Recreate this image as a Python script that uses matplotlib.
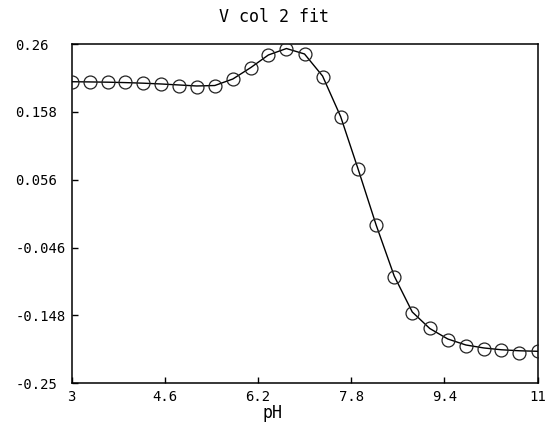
import matplotlib
matplotlib.use("Agg")
import matplotlib.pyplot as plt

# pH grid of the measurements
ph = [3.0, 3.31, 3.62, 3.92, 4.23, 4.54, 4.85, 5.15, 5.46, 5.77, 6.08, 6.38, 6.69,
      7.0, 7.31, 7.62, 7.92, 8.23, 8.54, 8.85, 9.15, 9.46, 9.77, 10.08, 10.38, 10.69, 11.0]

# observed V (circles)
v_obs = [0.2033, 0.2033, 0.2033, 0.2024, 0.2009, 0.1999, 0.1973, 0.1954, 0.1964,
         0.2077, 0.2244, 0.2439, 0.2528, 0.2457, 0.2109, 0.1507, 0.0721, -0.0121,
         -0.0898, -0.1436, -0.1673, -0.1849, -0.1935, -0.1981, -0.1995, -0.2049, -0.2017]

# fitted V (line)
v_fit = [0.2033, 0.2030, 0.2026, 0.2020, 0.2011, 0.1999, 0.1984, 0.1969, 0.1976,
         0.2074, 0.2247, 0.2435, 0.2532, 0.2450, 0.2119, 0.1510, 0.0721, -0.0121,
         -0.0887, -0.1428, -0.1676, -0.1834, -0.1924, -0.1969, -0.1996, -0.2011, -0.2019]

xticks = [3, 4.6, 6.2, 7.8, 9.4, 11]
xtick_labels = ["3", "4.6", "6.2", "7.8", "9.4", "11"]
yticks = [0.26, 0.158, 0.056, -0.046, -0.148, -0.25]
ytick_labels = ["0.26", "0.158", "0.056", "-0.046", "-0.148", "-0.25"]

plt.rcParams["font.family"] = "DejaVu Sans Mono"

W, H = 548, 428
fig = plt.figure(figsize=(W / 100, H / 100), dpi=100)
ax = fig.add_axes([71.5 / W, 1 - 383.3 / H, 466 / W, 339.3 / H])

ax.plot(ph, v_fit, color="black", lw=1.0, zorder=2)
ax.plot(ph, v_obs, linestyle="none", marker="o", markersize=9.3,
        markerfacecolor="none", markeredgecolor="#222222", markeredgewidth=0.9,
        clip_on=True, zorder=3)

ax.set_xlim(3, 11)
ax.set_ylim(-0.25, 0.26)
ax.set_xticks(xticks)
ax.set_xticklabels(xtick_labels)
ax.set_yticks(yticks)
ax.set_yticklabels(ytick_labels)

for s in ax.spines.values():
    s.set_linewidth(1.1)
    s.set_color("black")

ax.tick_params(axis="both", direction="in", length=4, width=1, labelsize=10,
               top=False, right=False)
ax.tick_params(axis="x", pad=5)
ax.tick_params(axis="y", pad=40.5)
for lab in ax.get_yticklabels():
    lab.set_horizontalalignment("left")

fig.text(274 / W, 1 - 17 / H, "V col 2 fit", ha="center", va="center", fontsize=12)
fig.text(273 / W, 1 - 413 / H, "pH", ha="center", va="center", fontsize=12)

fig.savefig("out.png", dpi=100)
